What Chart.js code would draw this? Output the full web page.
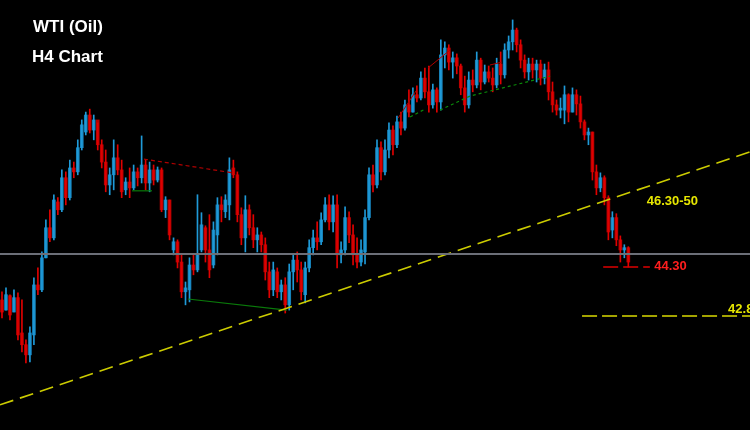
<!DOCTYPE html>
<html>
<head>
<meta charset="utf-8">
<script src="https://cdn.jsdelivr.net/npm/chart.js@4.4.1/dist/chart.umd.min.js"></script>
<style>
  html, body { margin: 0; padding: 0; background: #000; }
  #wrap { width: 750px; height: 430px; background: #000; }
</style>
</head>
<body>
<div id="wrap"><canvas id="oil" width="750" height="430"></canvas></div>
<script>
// WTI H4 candles, oldest to newest (USD/bbl)
const opens = [
  43.29, 42.98, 43.42, 42.92, 43.36, 42.28, 41.92, 41.61, 42.22, 43.75,
  43.60, 44.58, 45.50, 45.19, 46.29, 46.05, 47.03, 46.42, 47.33, 47.21,
  47.95, 48.43, 48.95, 48.49, 48.80, 48.04, 47.51, 46.81, 47.12, 47.64,
  47.27, 46.66, 46.90, 46.72, 47.21, 47.03, 47.42, 46.87, 47.27, 46.96,
  47.27, 46.05, 46.35, 44.82, 45.07, 44.45, 43.54, 43.60, 44.36, 44.21,
  44.82, 45.50, 44.82, 44.36, 45.28, 46.20, 45.99, 46.20, 47.33, 47.12,
  45.90, 45.19, 46.05, 45.50, 45.13, 45.28, 44.98, 44.15, 43.60, 44.15,
  43.54, 43.75, 43.14, 44.15, 44.51, 44.21, 43.45, 44.27, 44.89, 45.19,
  45.07, 45.74, 46.20, 45.68, 46.20, 44.67, 44.82, 45.81, 45.28, 44.67,
  44.45, 44.76, 45.81, 47.12, 46.81, 47.95, 47.21, 47.88, 48.49, 48.04,
  48.74, 48.55, 49.26, 49.04, 49.57, 49.47, 50.08, 49.66, 49.26, 49.72,
  49.35, 50.79, 51.00, 50.57, 50.70, 50.45, 49.78, 49.26, 50.02, 49.87,
  50.63, 49.96, 50.27, 50.08, 49.87, 50.51, 50.18, 50.94, 51.19, 51.55,
  51.10, 50.63, 50.27, 50.51, 50.33, 50.51, 50.08, 50.33, 49.66, 49.26,
  49.10, 49.10, 49.57, 49.04, 49.57, 49.29, 48.74, 48.34, 48.43, 47.21,
  46.72, 47.03, 46.42, 45.43, 45.81, 45.13, 44.82, 44.89
];
const highs = [
  43.54, 43.66, 43.45, 43.60, 43.51, 43.29, 42.07, 42.47, 43.97, 44.27,
  44.76, 45.74, 46.05, 46.51, 46.42, 47.27, 47.21, 47.57, 47.51, 48.19,
  48.80, 49.04, 49.13, 48.95, 48.71, 48.19, 47.88, 47.33, 48.19, 48.04,
  47.57, 47.03, 47.33, 47.42, 47.33, 48.31, 47.57, 47.51, 47.42, 47.36,
  47.33, 46.45, 46.35, 45.19, 45.13, 44.67, 43.84, 44.58, 44.70, 46.51,
  45.96, 45.56, 45.90, 45.68, 46.42, 46.45, 46.51, 47.64, 47.57, 47.21,
  46.11, 46.48, 46.20, 45.90, 45.50, 45.37, 45.19, 44.45, 44.45, 44.27,
  43.90, 43.97, 44.39, 44.70, 44.76, 44.45, 44.45, 45.13, 45.43, 45.68,
  45.96, 46.42, 46.51, 46.48, 46.51, 45.07, 46.14, 45.99, 45.59, 45.19,
  45.13, 46.05, 47.33, 47.42, 48.19, 48.13, 48.19, 48.71, 48.62, 48.92,
  49.04, 49.41, 49.72, 49.78, 49.84, 50.27, 50.39, 50.45, 49.90, 49.78,
  51.25, 51.19, 51.10, 50.88, 50.82, 50.51, 50.14, 50.27, 50.33, 50.88,
  50.69, 50.48, 50.45, 50.39, 50.69, 50.88, 51.13, 51.37, 51.86, 51.61,
  51.25, 50.79, 50.69, 50.69, 50.63, 50.63, 50.51, 50.57, 49.96, 49.41,
  49.47, 49.84, 49.60, 49.78, 49.72, 49.53, 48.80, 48.55, 48.43, 47.42,
  47.18, 47.09, 46.48, 45.99, 45.93, 45.25, 44.98, 44.92
];
const lows = [
  42.74, 42.98, 42.68, 42.92, 42.07, 41.70, 41.36, 41.39, 41.92, 43.45,
  43.54, 44.58, 45.07, 45.13, 45.90, 45.99, 46.20, 46.35, 47.03, 47.12,
  47.88, 48.34, 48.40, 48.19, 47.88, 47.33, 46.60, 46.51, 46.66, 47.12,
  46.42, 46.51, 46.42, 46.66, 46.78, 46.87, 46.66, 46.60, 46.81, 46.90,
  45.99, 45.81, 45.13, 44.67, 44.27, 43.36, 43.14, 43.23, 44.06, 44.15,
  44.76, 44.45, 43.97, 44.27, 44.67, 45.68, 45.81, 45.74, 47.03, 45.68,
  44.98, 44.76, 45.28, 44.89, 44.76, 44.76, 43.90, 43.36, 43.42, 43.36,
  43.29, 42.89, 42.98, 43.60, 43.84, 43.29, 43.20, 44.15, 44.67, 44.82,
  44.98, 45.68, 45.43, 45.37, 44.27, 44.42, 44.67, 45.04, 44.36, 44.27,
  44.33, 44.39, 45.74, 46.60, 46.72, 46.96, 47.12, 47.64, 47.73, 47.95,
  48.34, 48.49, 48.89, 49.04, 49.35, 49.41, 49.47, 49.04, 49.16, 49.04,
  49.10, 50.39, 50.33, 50.08, 50.21, 49.57, 49.04, 49.16, 49.66, 49.78,
  49.72, 49.90, 49.96, 49.66, 49.78, 49.90, 50.08, 50.69, 50.94, 50.88,
  50.39, 50.08, 50.02, 50.08, 49.96, 49.87, 49.90, 49.41, 49.04, 48.95,
  48.86, 48.68, 48.74, 49.04, 48.95, 48.55, 48.19, 48.04, 46.96, 46.51,
  46.60, 46.20, 45.13, 45.19, 44.95, 44.45, 44.58, 44.30
];
const closes = [
  42.92, 43.45, 42.83, 43.36, 42.22, 41.92, 41.61, 42.28, 43.75, 43.60,
  44.58, 45.50, 45.19, 46.35, 46.05, 47.03, 46.42, 47.33, 47.21, 47.95,
  48.65, 48.95, 48.49, 48.80, 48.04, 47.51, 46.81, 47.12, 47.64, 47.27,
  46.60, 46.90, 46.72, 47.21, 47.03, 47.42, 46.87, 47.27, 46.96, 47.27,
  46.05, 46.35, 45.28, 45.07, 44.45, 43.54, 43.66, 44.36, 44.21, 44.67,
  45.59, 44.82, 44.21, 45.43, 46.20, 46.05, 46.35, 47.27, 47.12, 45.90,
  45.19, 46.05, 45.50, 45.13, 45.28, 44.98, 44.15, 43.60, 44.21, 43.54,
  43.75, 43.14, 44.15, 44.51, 44.21, 43.54, 44.27, 44.89, 45.19, 45.07,
  45.74, 46.20, 45.68, 46.20, 44.67, 44.82, 45.81, 45.28, 44.67, 44.45,
  44.82, 45.81, 47.12, 46.81, 47.95, 47.21, 47.88, 48.49, 48.04, 48.74,
  48.55, 49.26, 49.04, 49.57, 49.47, 50.08, 49.66, 49.26, 49.72, 49.35,
  50.79, 51.00, 50.57, 50.70, 50.45, 49.78, 49.26, 50.02, 49.87, 50.63,
  49.96, 50.27, 50.08, 49.87, 50.51, 50.18, 50.94, 51.19, 51.55, 51.10,
  50.63, 50.27, 50.51, 50.33, 50.51, 50.08, 50.33, 49.66, 49.26, 49.10,
  49.16, 49.57, 49.04, 49.57, 49.29, 48.74, 48.34, 48.43, 47.21, 46.72,
  47.03, 46.42, 45.37, 45.81, 45.13, 44.82, 44.89, 44.45
];

// number of bar slots on screen (empty space to the right of the last candle)
const SLOTS = 188;

// drawn levels / trend lines: [bar index, price]
const trendSupport = [[-0.5, 40.08], [187.5, 47.82]];
const pivotLevel = [[-0.5, 44.70], [187.5, 44.70]];
const target2 = [[145.4, 42.80], [187.5, 42.80]];
const target1 = [[150.7, 44.30], [162.4, 44.30]];
const oldTopLine = [[35.6, 47.60], [57.9, 47.18]];
const baseLineA = [[32.6, 46.63], [37.6, 46.63]];
const baseLineB = [[46.6, 43.32], [71.4, 42.98]];
const riseLine1 = [[99.3, 48.86], [103.8, 49.69]];
const riseLine2 = [[106.8, 50.39], [112.3, 50.94]];
const riseLine3 = [[122.3, 50.48], [125.3, 50.57]];
const channelLow1 = [[102.3, 48.89], [106.0, 49.13]];
const channelLow2 = [[109.8, 49.10], [117.3, 49.53], [137.4, 50.14]];

// text labels: [text, bar index, price, colour]
const levelLabels = [
  ['46.30-50', 161.6, 46.20, '#e6e600'],
  ['44.30', 163.5, 44.21, '#ff1e1e'],
  ['42.80', 182.0, 42.89, '#e6e600']
];

const UP_WICK = '#1f9ad8', UP_BODY = '#1781b8';
const DN_WICK = '#e00000', DN_BODY = '#b80000';

const labels = Array.from({ length: SLOTS }, (_, i) => String(i));
const isUp = closes.map((c, i) => c >= opens[i]);

const toXY = pts => pts.map(p => ({ x: p[0], y: p[1] }));

function overlay(pts, color, width, dash) {
  return {
    type: 'line',
    xAxisID: 'x2',
    yAxisID: 'y',
    data: toXY(pts),
    borderColor: color,
    borderWidth: width,
    borderDash: dash || [],
    pointRadius: 0,
    fill: false,
    tension: 0,
    order: -1
  };
}

const textPlugin = {
  id: 'chartText',
  afterDatasetsDraw(chart) {
    const ctx = chart.ctx;
    const xs = chart.scales.x2, ys = chart.scales.y;
    ctx.save();
    ctx.textBaseline = 'alphabetic';
    ctx.textAlign = 'left';
    ctx.fillStyle = '#ffffff';
    ctx.font = 'bold 17px "Liberation Sans", Arial, sans-serif';
    ctx.fillText('WTI (Oil)', 33, 32);
    ctx.fillText('H4 Chart', 32, 62);
    ctx.font = 'bold 13px "Liberation Sans", Arial, sans-serif';
    levelLabels.forEach(([txt, idx, price, color]) => {
      ctx.fillStyle = color;
      ctx.fillText(txt, xs.getPixelForValue(idx), ys.getPixelForValue(price));
    });
    ctx.restore();
  }
};

new Chart(document.getElementById('oil'), {
  type: 'bar',
  data: {
    labels,
    datasets: [
      overlay(pivotLevel, '#6c6f78', 2),
      overlay(trendSupport, '#cccc00', 1.6, [14, 7]),
      overlay(target2, '#a4a400', 2, [15, 5]),
      overlay(target1, '#dd0000', 1.5, [15, 5]),
      overlay(oldTopLine, '#b00000', 1.2, [4, 3]),
      overlay(baseLineA, '#0a7a0a', 1.2),
      overlay(baseLineB, '#0a7a0a', 1.2),
      overlay(riseLine1, '#b00000', 1),
      overlay(riseLine2, '#b00000', 1),
      overlay(riseLine3, '#b00000', 1),
      overlay(channelLow1, '#0a8a0a', 1.2, [3, 3]),
      overlay(channelLow2, '#0a8a0a', 1.2, [3, 3]),
      {
        label: 'wick',
        data: lows.map((l, i) => [l, highs[i]]),
        backgroundColor: isUp.map(u => (u ? UP_WICK : DN_WICK)),
        barThickness: 1,
        grouped: false,
        order: 0
      },
      {
        label: 'body',
        data: opens.map((o, i) => [o, closes[i]]),
        backgroundColor: isUp.map(u => (u ? UP_BODY : DN_BODY)),
        barThickness: 3,
        grouped: false,
        order: 1
      }
    ]
  },
  options: {
    responsive: false,
    animation: false,
    events: [],
    layout: { padding: 0 },
    plugins: {
      legend: { display: false },
      tooltip: { enabled: false }
    },
    scales: {
      x: { type: 'category', display: false, offset: true, grid: { display: false } },
      x2: { type: 'linear', display: false, offset: false, min: -0.5, max: 187.5 },
      y: { display: false, min: 39.31, max: 52.47 }
    }
  },
  plugins: [textPlugin]
});
</script>
</body>
</html>
